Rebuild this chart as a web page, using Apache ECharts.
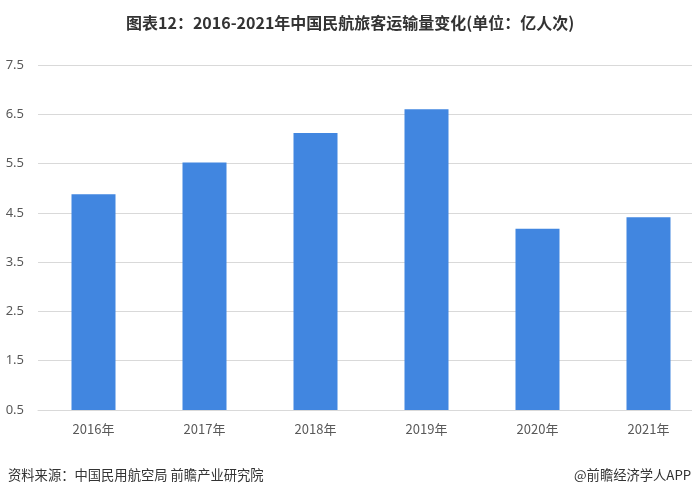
<!DOCTYPE html>
<html><head><meta charset="utf-8">
<script src="https://cdn.jsdelivr.net/npm/echarts@6/dist/echarts.min.js"></script>
<style>html,body{margin:0;padding:0;background:#fff;overflow:hidden}#c{width:704px;height:495px}</style>
</head><body><div id="c"></div>
<script>
const categories = ['2016年','2017年','2018年','2019年','2020年','2021年'];
const passengers = [4.88, 5.52, 6.12, 6.60, 4.18, 4.41];
const yMin = 0.5, yMax = 7.5;
const titleText = '图表12：2016-2021年中国民航旅客运输量变化(单位：亿人次)';
const sourceText = '资料来源：中国民用航空局 前瞻产业研究院';
const brandText = '@前瞻经济学人APP';

const chart = echarts.init(document.getElementById('c'), null, {renderer:'canvas'});
chart.setOption({
  animation:false,
  backgroundColor:'#fff',
  title:{text:titleText,left:121,top:10,
    textStyle:{fontSize:16,fontWeight:'bold',color:'#333',fontFamily:'"Noto Sans CJK SC","Noto Sans",sans-serif'}},
  graphic:[
    {type:'text',left:8,top:468,style:{text:sourceText,fontSize:13.3,fill:'#333',fontFamily:'"Noto Sans CJK SC",sans-serif'}},
    {type:'text',left:574,top:468,style:{text:brandText,fontSize:13.3,fill:'#333',fontFamily:'"Noto Sans CJK SC",sans-serif'}}
  ],
  grid:{left:38,top:65,bottom:85,right:0,containLabel:false},
  xAxis:{type:'category',data:categories,
    axisLine:{lineStyle:{color:'#d9d9d9'}},axisTick:{show:false},
    axisLabel:{color:'#595959',fontSize:13,margin:13,fontFamily:'"Noto Sans CJK SC",sans-serif'}},
  yAxis:{type:'value',min:yMin,max:yMax,interval:0.5,
    axisLine:{show:false},axisTick:{show:false},
    axisLabel:{color:'#595959',fontSize:13,margin:14,fontFamily:'"Noto Sans","Noto Sans CJK SC",sans-serif',
      formatter:v=>(Math.round(v*2)%2===1)?v.toFixed(1):''},
    splitLine:{lineStyle:{color:['#d9d9d9','rgba(0,0,0,0)'],width:1}}},
  series:[{type:'bar',data:passengers,barWidth:44,itemStyle:{color:'#4186e0'}}]
});
</script></body></html>
